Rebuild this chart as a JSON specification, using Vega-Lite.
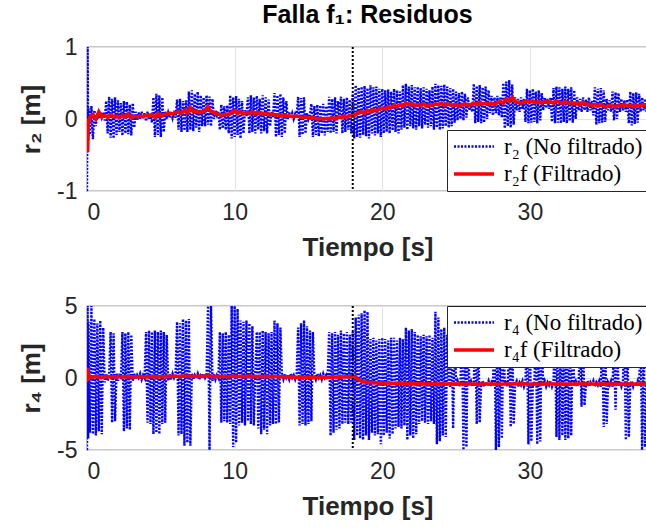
{
  "$schema": "https://vega.github.io/schema/vega-lite/v6.json",
  "background": "white",
  "padding": {"left": 17, "top": 2, "right": 0, "bottom": 0},
  "autosize": {"type": "pad"},
  "spacing": 33,
  "datasets": {
    "ev": [{"t": 18}],
    "s": [
      {"t":0,"a":-1,"b":0,"c":-5,"d":0.1},
      {"t":0.04,"a":1,"b":-0.46,"c":5,"d":0.7},
      {"t":0.08,"a":-0.3,"b":-0.1,"c":-4.2,"d":-0.05},
      {"t":0.1,"a":0.15,"c":3.9},
      {"t":0.2,"a":-0.22,"b":0.02,"c":-3.8,"d":0.1},
      {"t":0.3,"a":0.18,"c":5},
      {"t":0.4,"a":-0.28,"b":0.06,"c":-3.9,"d":0.05},
      {"t":0.5,"a":0.12,"c":4.1},
      {"t":0.6,"a":-0.1,"b":0,"c":-4,"d":0.12},
      {"t":0.7,"a":0.08,"c":3.8},
      {"t":0.8,"a":0,"b":0.1,"c":-3.7,"d":0.05},
      {"t":0.9,"a":0.1,"c":4},
      {"t":1,"a":0.02,"b":0.03,"c":-3.9,"d":0.08},
      {"t":1.1,"a":0.09,"c":3.5},
      {"t":1.2,"a":-0.02,"b":0.05,"c":-0.3,"d":0.07},
      {"t":1.3,"a":0.25,"c":0.3},
      {"t":1.4,"a":-0.2,"b":0.02,"c":-0.2,"d":0.1},
      {"t":1.5,"a":0.31,"c":0.2},
      {"t":1.6,"a":-0.26,"b":0.06,"c":3.2,"d":0.06},
      {"t":1.7,"a":0.28,"c":-3.1},
      {"t":1.8,"a":-0.27,"b":0.03,"c":3.1,"d":0.09},
      {"t":1.9,"a":0.3,"c":-3},
      {"t":2,"a":-0.22,"b":0.04,"c":0.3,"d":0.08},
      {"t":2.1,"a":0.26,"c":-0.2},
      {"t":2.2,"a":-0.18,"b":0.02,"c":0.3,"d":0.11},
      {"t":2.3,"a":0.22,"c":-0.1},
      {"t":2.4,"a":-0.23,"b":0.05,"c":3.2,"d":0.07},
      {"t":2.5,"a":0.25,"c":-3.7},
      {"t":2.6,"a":-0.2,"b":0.03,"c":3.1,"d":0.09},
      {"t":2.7,"a":0.24,"c":-3.5},
      {"t":2.8,"a":-0.21,"b":0.07,"c":3.2,"d":0.1},
      {"t":2.9,"a":0.2,"c":-3.6},
      {"t":3,"a":-0.23,"b":0.02,"c":3,"d":0.08},
      {"t":3.1,"a":0.22,"c":-0.2},
      {"t":3.2,"a":-0.12,"b":0.04,"c":0.3,"d":0.06},
      {"t":3.3,"a":0.1,"c":-0.1},
      {"t":3.4,"a":-0.02,"b":0.03,"c":0.2,"d":0.09},
      {"t":3.5,"a":0.09,"c":0},
      {"t":3.6,"a":0,"b":0.04,"c":0.3,"d":0.08},
      {"t":3.7,"a":0.1,"c":-0.1},
      {"t":3.8,"a":0.01,"b":0.03,"c":0.2,"d":0.1},
      {"t":3.9,"a":0.08,"c":0},
      {"t":4,"a":-0.03,"b":0.05,"c":3.2,"d":0.07},
      {"t":4.1,"a":0.1,"c":-3.1},
      {"t":4.2,"a":0,"b":0.04,"c":3.3,"d":0.09},
      {"t":4.3,"a":0.07,"c":-3.2},
      {"t":4.4,"a":-0.05,"b":0.06,"c":3.2,"d":0.11},
      {"t":4.5,"a":0.3,"c":-3.9},
      {"t":4.6,"a":-0.25,"b":0.02,"c":3.3,"d":0.08},
      {"t":4.7,"a":0.35,"c":-3.8},
      {"t":4.8,"a":-0.22,"b":0.08,"c":3.2,"d":0.1},
      {"t":4.9,"a":0.33,"c":-3.9},
      {"t":5,"a":-0.25,"b":0.04,"c":3.3,"d":0.07},
      {"t":5.1,"a":0.3,"c":-3.2},
      {"t":5.2,"a":-0.18,"b":0.06,"c":3.2,"d":0.09},
      {"t":5.3,"a":0.1,"c":-3.1},
      {"t":5.4,"a":0,"b":0.07,"c":3,"d":0.12},
      {"t":5.5,"a":0.09,"c":-0.2},
      {"t":5.6,"a":0.02,"b":0.08,"c":0.3,"d":0.1},
      {"t":5.7,"a":0.1,"c":-0.1},
      {"t":5.8,"a":0.01,"b":0.07,"c":0.3,"d":0.11},
      {"t":5.9,"a":0.08,"c":0},
      {"t":6,"a":0.02,"b":0.09,"c":0.2,"d":0.13},
      {"t":6.1,"a":0.27,"c":3.9},
      {"t":6.2,"a":-0.15,"b":0.1,"c":-4,"d":0.1},
      {"t":6.3,"a":0.28,"c":3.8},
      {"t":6.4,"a":-0.18,"b":0.08,"c":-3.9,"d":0.12},
      {"t":6.5,"a":0.25,"c":4.1},
      {"t":6.6,"a":-0.16,"b":0.12,"c":-4.7,"d":0.14},
      {"t":6.7,"a":0.26,"c":4},
      {"t":6.8,"a":-0.18,"b":0.09,"c":-4.5,"d":0.11},
      {"t":6.9,"a":0.38,"c":4.1},
      {"t":7,"a":-0.15,"b":0.16,"c":-4.7,"d":0.13},
      {"t":7.1,"a":0.4,"c":0.3},
      {"t":7.2,"a":-0.17,"b":0.1,"c":-0.1,"d":0.12},
      {"t":7.3,"a":0.35,"c":0.2},
      {"t":7.4,"a":-0.12,"b":0.11,"c":0,"d":0.1},
      {"t":7.5,"a":0.38,"c":0.3},
      {"t":7.6,"a":-0.18,"b":0.09,"c":-0.1,"d":0.13},
      {"t":7.7,"a":0.33,"c":0.2},
      {"t":7.8,"a":-0.1,"b":0.1,"c":0.1,"d":0.11},
      {"t":7.9,"a":0.3,"c":0.3},
      {"t":8,"a":-0.1,"b":0.12,"c":0,"d":0.12},
      {"t":8.1,"a":0.33,"c":0.2},
      {"t":8.2,"a":-0.08,"b":0.17,"c":5,"d":0.15},
      {"t":8.3,"a":0.31,"c":-5},
      {"t":8.4,"a":-0.1,"b":0.1,"c":5,"d":0.11},
      {"t":8.5,"a":0.28,"c":-0.2},
      {"t":8.6,"a":0,"b":0.09,"c":0.3,"d":0.1},
      {"t":8.7,"a":0.12,"c":-0.1},
      {"t":8.8,"a":0.05,"b":0.07,"c":0.2,"d":0.12},
      {"t":8.9,"a":0.1,"c":0},
      {"t":9,"a":-0.15,"b":0.06,"c":3.2,"d":0.09},
      {"t":9.1,"a":0.2,"c":-3.1},
      {"t":9.2,"a":-0.13,"b":0.05,"c":3.1,"d":0.11},
      {"t":9.3,"a":0.18,"c":-3},
      {"t":9.4,"a":-0.15,"b":0.07,"c":3.2,"d":0.1},
      {"t":9.5,"a":0.19,"c":-3.1},
      {"t":9.6,"a":-0.2,"b":0.06,"c":3,"d":0.08},
      {"t":9.7,"a":0.33,"c":-3.2},
      {"t":9.8,"a":-0.27,"b":0.09,"c":5,"d":0.12},
      {"t":9.9,"a":0.3,"c":-4.8},
      {"t":10,"a":-0.25,"b":0.12,"c":5,"d":0.13},
      {"t":10.1,"a":0.32,"c":-4.5},
      {"t":10.2,"a":-0.22,"b":0.08,"c":4.8,"d":0.1},
      {"t":10.3,"a":0.28,"c":-3.3},
      {"t":10.4,"a":-0.27,"b":0.1,"c":4,"d":0.12},
      {"t":10.5,"a":0.25,"c":-3.1},
      {"t":10.6,"a":-0.2,"b":0.07,"c":3.9,"d":0.09},
      {"t":10.7,"a":0.12,"c":-3.3},
      {"t":10.8,"a":0.04,"b":0.09,"c":4,"d":0.11},
      {"t":10.9,"a":0.3,"c":-3},
      {"t":11,"a":-0.2,"b":0.08,"c":3.8,"d":0.13},
      {"t":11.1,"a":0.33,"c":-3.2},
      {"t":11.2,"a":-0.18,"b":0.1,"c":3.6,"d":0.1},
      {"t":11.3,"a":0.3,"c":-3.3},
      {"t":11.4,"a":-0.2,"b":0.07,"c":0.3,"d":0.08},
      {"t":11.5,"a":0.32,"c":3.2},
      {"t":11.6,"a":-0.15,"b":0.09,"c":-3.5,"d":0.11},
      {"t":11.7,"a":0.28,"c":3.2},
      {"t":11.8,"a":-0.2,"b":0.08,"c":-3.9,"d":0.09},
      {"t":11.9,"a":0.33,"c":3.3},
      {"t":12,"a":-0.17,"b":0.07,"c":-3.6,"d":0.1},
      {"t":12.1,"a":0.3,"c":3.2},
      {"t":12.2,"a":-0.2,"b":0.08,"c":-3.9,"d":0.12},
      {"t":12.3,"a":0.27,"c":3.1},
      {"t":12.4,"a":-0.1,"b":0.06,"c":-3.3,"d":0.09},
      {"t":12.5,"a":0.1,"c":3.2},
      {"t":12.6,"a":0.03,"b":0.07,"c":-3.2,"d":0.11},
      {"t":12.7,"a":0.36,"c":4},
      {"t":12.8,"a":-0.25,"b":0.05,"c":-3.2,"d":0.1},
      {"t":12.9,"a":0.33,"c":3.8},
      {"t":13,"a":-0.22,"b":0.06,"c":-3.1,"d":0.08},
      {"t":13.1,"a":0.35,"c":3.5},
      {"t":13.2,"a":-0.25,"b":0.04,"c":0.2,"d":0.09},
      {"t":13.3,"a":0.3,"c":-0.1},
      {"t":13.4,"a":-0.2,"b":0.05,"c":0.3,"d":0.07},
      {"t":13.5,"a":0.25,"c":0},
      {"t":13.6,"a":0,"b":0.04,"c":0.2,"d":0.08},
      {"t":13.7,"a":0.09,"c":-0.1},
      {"t":13.8,"a":0.01,"b":0.04,"c":0.3,"d":0.06},
      {"t":13.9,"a":0.08,"c":0},
      {"t":14,"a":0,"b":0.03,"c":0.2,"d":0.07},
      {"t":14.1,"a":0.07,"c":-0.1},
      {"t":14.2,"a":0.02,"b":0.04,"c":0.2,"d":0.05},
      {"t":14.3,"a":0.31,"c":3.5},
      {"t":14.4,"a":-0.25,"b":0.03,"c":-3.3,"d":0.06},
      {"t":14.5,"a":0.29,"c":3.8},
      {"t":14.6,"a":-0.22,"b":0.02,"c":-3.2,"d":0.04},
      {"t":14.7,"a":0.3,"c":4},
      {"t":14.8,"a":-0.2,"b":0.03,"c":-3.3,"d":0.06},
      {"t":14.9,"a":0.08,"c":3.6},
      {"t":15,"a":0,"b":0.02,"c":-3.2,"d":0.05},
      {"t":15.1,"a":0.06,"c":3.3},
      {"t":15.2,"a":0.21,"b":0.01,"c":-3,"d":0.04},
      {"t":15.3,"a":-0.25,"c":3.2},
      {"t":15.4,"a":0.18,"b":0.02,"c":0.2,"d":0.03},
      {"t":15.5,"a":-0.22,"c":-0.1},
      {"t":15.6,"a":0.2,"b":0,"c":0.3,"d":0.04},
      {"t":15.7,"a":-0.24,"c":0},
      {"t":15.8,"a":0.19,"b":0.01,"c":0.2,"d":0.03},
      {"t":15.9,"a":-0.2,"c":-0.1},
      {"t":16,"a":0.21,"b":0,"c":0.3,"d":0.05},
      {"t":16.1,"a":-0.23,"c":0},
      {"t":16.2,"a":0.18,"b":0.01,"c":0.2,"d":0.04},
      {"t":16.3,"a":-0.18,"c":-0.1},
      {"t":16.4,"a":0.31,"b":0,"c":3.2,"d":0.06},
      {"t":16.5,"a":-0.2,"c":-4},
      {"t":16.6,"a":0.28,"b":0.02,"c":3.1,"d":0.05},
      {"t":16.7,"a":-0.18,"c":-3.8},
      {"t":16.8,"a":0.3,"b":0,"c":3.2,"d":0.07},
      {"t":16.9,"a":-0.2,"c":-3.6},
      {"t":17,"a":0.25,"b":0.03,"c":3,"d":0.06},
      {"t":17.1,"a":0,"c":-3.5},
      {"t":17.2,"a":0.31,"b":0.02,"c":3.3,"d":0.08},
      {"t":17.3,"a":-0.2,"c":-3.2},
      {"t":17.4,"a":0.28,"b":0.04,"c":3.1,"d":0.07},
      {"t":17.5,"a":-0.18,"c":-3.1},
      {"t":17.6,"a":0.3,"b":0.02,"c":3.2,"d":0.09},
      {"t":17.7,"a":-0.15,"c":-3.2},
      {"t":17.8,"a":0.27,"b":0.05,"c":3,"d":0.08},
      {"t":17.9,"a":-0.2,"c":-3.1},
      {"t":18,"a":0.35,"b":0.04,"c":3.2,"d":0.1},
      {"t":18.1,"a":-0.27,"c":-4.3},
      {"t":18.2,"a":0.47,"b":0.06,"c":4.2,"d":0.05},
      {"t":18.3,"a":-0.25,"c":-4},
      {"t":18.4,"a":0.44,"b":0.09,"c":4.4,"d":-0.1},
      {"t":18.5,"a":-0.26,"c":-4.2},
      {"t":18.6,"a":0.45,"b":0.1,"c":4.5,"d":-0.22},
      {"t":18.7,"a":-0.22,"c":-4.3},
      {"t":18.8,"a":0.46,"b":0.08,"c":4.7,"d":-0.28},
      {"t":18.9,"a":-0.24,"c":-4},
      {"t":19,"a":0.43,"b":0.12,"c":4.6,"d":-0.3},
      {"t":19.1,"a":-0.27,"c":-4.3},
      {"t":19.2,"a":0.47,"b":0.1,"c":2.7,"d":-0.32},
      {"t":19.3,"a":-0.2,"c":-3.8},
      {"t":19.4,"a":0.44,"b":0.13,"c":2.8,"d":-0.31},
      {"t":19.5,"a":-0.23,"c":-4},
      {"t":19.6,"a":0.45,"b":0.11,"c":2.6,"d":-0.34},
      {"t":19.7,"a":-0.2,"c":-3.9},
      {"t":19.8,"a":0.42,"b":0.14,"c":2.7,"d":-0.33},
      {"t":19.9,"a":-0.25,"c":-4.6},
      {"t":20,"a":0.42,"b":0.15,"c":2.8,"d":-0.35},
      {"t":20.1,"a":-0.2,"c":-4},
      {"t":20.2,"a":0.4,"b":0.14,"c":2.7,"d":-0.36},
      {"t":20.3,"a":-0.18,"c":-3.8},
      {"t":20.4,"a":0.41,"b":0.17,"c":2.6,"d":-0.34},
      {"t":20.5,"a":-0.2,"c":-4.2},
      {"t":20.6,"a":0.38,"b":0.16,"c":2.8,"d":-0.37},
      {"t":20.7,"a":-0.16,"c":-3.9},
      {"t":20.8,"a":0.42,"b":0.19,"c":2.8,"d":-0.36},
      {"t":20.9,"a":-0.18,"c":-3.5},
      {"t":21,"a":0.4,"b":0.17,"c":2.6,"d":-0.38},
      {"t":21.1,"a":-0.2,"c":-3.4},
      {"t":21.2,"a":0.38,"b":0.2,"c":2.8,"d":-0.37},
      {"t":21.3,"a":-0.15,"c":-3.5},
      {"t":21.4,"a":0.47,"b":0.18,"c":2.7,"d":-0.39},
      {"t":21.5,"a":-0.12,"c":-3.3},
      {"t":21.6,"a":0.49,"b":0.22,"c":3.5,"d":-0.38},
      {"t":21.7,"a":-0.15,"c":-4.3},
      {"t":21.8,"a":0.45,"b":0.2,"c":3.3,"d":-0.4},
      {"t":21.9,"a":-0.1,"c":-4},
      {"t":22,"a":0.47,"b":0.21,"c":3.4,"d":-0.39},
      {"t":22.1,"a":-0.13,"c":-4.2},
      {"t":22.2,"a":0.44,"b":0.19,"c":3.2,"d":-0.41},
      {"t":22.3,"a":-0.15,"c":-3.9},
      {"t":22.4,"a":0.45,"b":0.2,"c":3,"d":-0.4},
      {"t":22.5,"a":-0.1,"c":-3.2},
      {"t":22.6,"a":0.43,"b":0.19,"c":2.9,"d":-0.39},
      {"t":22.7,"a":-0.13,"c":-3},
      {"t":22.8,"a":0.44,"b":0.21,"c":3,"d":-0.41},
      {"t":22.9,"a":-0.08,"c":-3.1},
      {"t":23,"a":0.42,"b":0.18,"c":2.9,"d":-0.4},
      {"t":23.1,"a":-0.12,"c":-3.2},
      {"t":23.2,"a":0.4,"b":0.2,"c":3,"d":-0.42},
      {"t":23.3,"a":-0.1,"c":-3},
      {"t":23.4,"a":0.45,"b":0.19,"c":2.8,"d":-0.41},
      {"t":23.5,"a":-0.15,"c":-3.2},
      {"t":23.6,"a":0.49,"b":0.21,"c":4.6,"d":-0.4},
      {"t":23.7,"a":-0.12,"c":-4.6},
      {"t":23.8,"a":0.47,"b":0.2,"c":4.2,"d":-0.42},
      {"t":23.9,"a":-0.15,"c":-4.4},
      {"t":24,"a":0.46,"b":0.22,"c":3.4,"d":-0.41},
      {"t":24.1,"a":-0.13,"c":-4},
      {"t":24.2,"a":0.48,"b":0.19,"c":3.5,"d":-0.43},
      {"t":24.3,"a":-0.1,"c":-4.1},
      {"t":24.4,"a":0.45,"b":0.21,"c":3,"d":-0.42},
      {"t":24.5,"a":-0.12,"c":-0.3},
      {"t":24.6,"a":0.43,"b":0.2,"c":-0.6,"d":-0.4},
      {"t":24.7,"a":-0.1,"c":3},
      {"t":24.8,"a":0.42,"b":0.19,"c":-3.5,"d":-0.42},
      {"t":24.9,"a":-0.05,"c":3.1},
      {"t":25,"a":0.38,"b":0.2,"c":-0.5,"d":-0.43},
      {"t":25.1,"a":-0.02,"c":-0.2},
      {"t":25.2,"a":0.36,"b":0.18,"c":-0.6,"d":-0.41},
      {"t":25.3,"a":0,"c":-0.3},
      {"t":25.4,"a":0.38,"b":0.2,"c":3.5,"d":-0.42},
      {"t":25.5,"a":-0.02,"c":-5},
      {"t":25.6,"a":0.35,"b":0.21,"c":3.6,"d":-0.44},
      {"t":25.7,"a":0.02,"c":-4.8},
      {"t":25.8,"a":0.3,"b":0.19,"c":3.4,"d":-0.42},
      {"t":25.9,"a":0.12,"c":-0.4},
      {"t":26,"a":0.2,"b":0.2,"c":-0.2,"d":-0.41},
      {"t":26.1,"a":0.1,"c":-0.6},
      {"t":26.2,"a":0.49,"b":0.22,"c":-0.3,"d":-0.43},
      {"t":26.3,"a":-0.06,"c":3.3},
      {"t":26.4,"a":0.46,"b":0.2,"c":-3.2,"d":-0.42},
      {"t":26.5,"a":-0.04,"c":3.2},
      {"t":26.6,"a":0.47,"b":0.23,"c":-3.1,"d":-0.44},
      {"t":26.7,"a":-0.06,"c":-0.4},
      {"t":26.8,"a":0.44,"b":0.21,"c":-0.2,"d":-0.42},
      {"t":26.9,"a":-0.05,"c":-0.6},
      {"t":27,"a":0.45,"b":0.22,"c":-0.3,"d":-0.41},
      {"t":27.1,"a":0,"c":-0.5},
      {"t":27.2,"a":0.4,"b":0.21,"c":-0.2,"d":-0.43},
      {"t":27.3,"a":0.08,"c":-0.6},
      {"t":27.4,"a":0.32,"b":0.22,"c":-0.3,"d":-0.42},
      {"t":27.5,"a":0.05,"c":-0.5},
      {"t":27.6,"a":0.3,"b":0.2,"c":3.8,"d":-0.41},
      {"t":27.7,"a":0.08,"c":-5},
      {"t":27.8,"a":0.32,"b":0.23,"c":3.6,"d":-0.43},
      {"t":27.9,"a":0.05,"c":-4.8},
      {"t":28,"a":0.3,"b":0.24,"c":3.5,"d":-0.44},
      {"t":28.1,"a":0.02,"c":-4.2},
      {"t":28.2,"a":0.5,"b":0.22,"c":3.2,"d":-0.42},
      {"t":28.3,"a":-0.13,"c":-0.4},
      {"t":28.4,"a":0.52,"b":0.28,"c":-0.2,"d":-0.41},
      {"t":28.5,"a":-0.1,"c":-0.6},
      {"t":28.6,"a":0.54,"b":0.25,"c":3,"d":-0.43},
      {"t":28.7,"a":-0.12,"c":-3.4},
      {"t":28.8,"a":0.48,"b":0.3,"c":2.9,"d":-0.42},
      {"t":28.9,"a":-0.08,"c":-3.2},
      {"t":29,"a":0.3,"b":0.24,"c":-0.4,"d":-0.4},
      {"t":29.1,"a":0.12,"c":-0.2},
      {"t":29.2,"a":0.28,"b":0.23,"c":-0.6,"d":-0.42},
      {"t":29.3,"a":0.1,"c":-0.3},
      {"t":29.4,"a":0.3,"b":0.22,"c":-0.5,"d":-0.43},
      {"t":29.5,"a":0.14,"c":-0.2},
      {"t":29.6,"a":0.28,"b":0.24,"c":-0.6,"d":-0.41},
      {"t":29.7,"a":-0.04,"c":-0.3},
      {"t":29.8,"a":0.42,"b":0.25,"c":3.2,"d":-0.42},
      {"t":29.9,"a":-0.06,"c":-4.6},
      {"t":30,"a":0.4,"b":0.24,"c":3,"d":-0.44},
      {"t":30.1,"a":-0.05,"c":-4.4},
      {"t":30.2,"a":0.42,"b":0.25,"c":-0.3,"d":-0.43},
      {"t":30.3,"a":-0.04,"c":-0.5},
      {"t":30.4,"a":0.38,"b":0.23,"c":3.3,"d":-0.41},
      {"t":30.5,"a":-0.06,"c":-4.6},
      {"t":30.6,"a":0.4,"b":0.24,"c":3.1,"d":-0.42},
      {"t":30.7,"a":-0.02,"c":-4.4},
      {"t":30.8,"a":0.36,"b":0.22,"c":3,"d":-0.43},
      {"t":30.9,"a":0.12,"c":-0.5},
      {"t":31,"a":0.3,"b":0.24,"c":-0.2,"d":-0.41},
      {"t":31.1,"a":0.15,"c":-0.6},
      {"t":31.2,"a":0.28,"b":0.23,"c":-0.3,"d":-0.42},
      {"t":31.3,"a":0.14,"c":-0.5},
      {"t":31.4,"a":0.3,"b":0.24,"c":-0.2,"d":-0.4},
      {"t":31.5,"a":-0.04,"c":-0.6},
      {"t":31.6,"a":0.43,"b":0.22,"c":-0.3,"d":-0.42},
      {"t":31.7,"a":-0.06,"c":3.5},
      {"t":31.8,"a":0.45,"b":0.25,"c":-4.1,"d":-0.43},
      {"t":31.9,"a":-0.05,"c":3.4},
      {"t":32,"a":0.44,"b":0.23,"c":-4.3,"d":-0.41},
      {"t":32.1,"a":-0.06,"c":3.6},
      {"t":32.2,"a":0.42,"b":0.22,"c":-4,"d":-0.42},
      {"t":32.3,"a":-0.04,"c":3.3},
      {"t":32.4,"a":0.45,"b":0.24,"c":-4.3,"d":-0.44},
      {"t":32.5,"a":-0.06,"c":3.5},
      {"t":32.6,"a":0.42,"b":0.22,"c":-4.2,"d":-0.42},
      {"t":32.7,"a":-0.03,"c":3.4},
      {"t":32.8,"a":0.44,"b":0.23,"c":-4,"d":-0.41},
      {"t":32.9,"a":-0.05,"c":3.2},
      {"t":33,"a":0.4,"b":0.21,"c":-0.4,"d":-0.43},
      {"t":33.1,"a":0,"c":-0.2},
      {"t":33.2,"a":0.3,"b":0.22,"c":-0.6,"d":-0.42},
      {"t":33.3,"a":0.12,"c":-0.3},
      {"t":33.4,"a":0.28,"b":0.2,"c":2.5,"d":-0.38},
      {"t":33.5,"a":0.1,"c":-2},
      {"t":33.6,"a":0.3,"b":0.23,"c":2.4,"d":-0.41},
      {"t":33.7,"a":0.12,"c":-1.9},
      {"t":33.8,"a":0.27,"b":0.21,"c":-0.4,"d":-0.42},
      {"t":33.9,"a":0.1,"c":-0.2},
      {"t":34,"a":0.3,"b":0.2,"c":-0.6,"d":-0.43},
      {"t":34.1,"a":0.12,"c":-0.3},
      {"t":34.2,"a":0.25,"b":0.19,"c":-0.5,"d":-0.41},
      {"t":34.3,"a":0.05,"c":-0.2},
      {"t":34.4,"a":0.44,"b":0.2,"c":-0.6,"d":-0.42},
      {"t":34.5,"a":-0.08,"c":-0.3},
      {"t":34.6,"a":0.42,"b":0.18,"c":-0.5,"d":-0.44},
      {"t":34.7,"a":-0.06,"c":-0.2},
      {"t":34.8,"a":0.43,"b":0.2,"c":-0.6,"d":-0.42},
      {"t":34.9,"a":-0.05,"c":3},
      {"t":35,"a":0.4,"b":0.18,"c":-3.4,"d":-0.41},
      {"t":35.1,"a":-0.04,"c":2.9},
      {"t":35.2,"a":0.28,"b":0.17,"c":-3.2,"d":-0.43},
      {"t":35.3,"a":0.12,"c":-0.3},
      {"t":35.4,"a":0.26,"b":0.19,"c":-0.5,"d":-0.42},
      {"t":35.5,"a":0.1,"c":-0.2},
      {"t":35.6,"a":0.38,"b":0.18,"c":-0.6,"d":-0.41},
      {"t":35.7,"a":-0.02,"c":2.5},
      {"t":35.8,"a":0.37,"b":0.17,"c":-2.2,"d":-0.43},
      {"t":35.9,"a":0,"c":2.4},
      {"t":36,"a":0.36,"b":0.19,"c":-0.4,"d":-0.42},
      {"t":36.1,"a":0.1,"c":-0.2},
      {"t":36.2,"a":0.28,"b":0.18,"c":-0.6,"d":-0.44},
      {"t":36.3,"a":0.12,"c":-0.3},
      {"t":36.4,"a":0.26,"b":0.2,"c":3.3,"d":-0.42},
      {"t":36.5,"a":0.1,"c":-4.3},
      {"t":36.6,"a":0.27,"b":0.18,"c":3.2,"d":-0.43},
      {"t":36.7,"a":-0.06,"c":-4.1},
      {"t":36.8,"a":0.38,"b":0.19,"c":-0.4,"d":-0.41},
      {"t":36.9,"a":-0.09,"c":-0.2},
      {"t":37,"a":0.36,"b":0.17,"c":-0.6,"d":-0.42},
      {"t":37.1,"a":-0.07,"c":-0.3},
      {"t":37.2,"a":0.37,"b":0.19,"c":-0.5,"d":-0.43},
      {"t":37.3,"a":-0.05,"c":-0.2},
      {"t":37.4,"a":0.35,"b":0.18,"c":-0.6,"d":-0.42},
      {"t":37.5,"a":0.1,"c":3.5},
      {"t":37.6,"a":0.3,"b":0.2,"c":-5,"d":-0.41},
      {"t":37.7,"a":0.12,"c":3.4},
      {"t":37.8,"a":0.28,"b":0.19,"c":-4.8,"d":-0.43},
      {"t":37.9,"a":0.1,"c":-0.4},
      {"t":38,"a":0.25,"b":0.18,"c":-0.3,"d":-0.42}
    ]
  },
  "config": {
    "font": "Liberation Sans",
    "view": {"stroke": "#262626", "strokeWidth": 1.2},
    "axis": {
      "labelFont": "Liberation Sans", "labelFontSize": 23, "labelColor": "#262626",
      "titleFont": "Liberation Sans", "titleFontSize": 26, "titleFontWeight": "bold", "titleColor": "#262626",
      "ticks": false, "domain": false, "gridColor": "#e3e3e3", "gridWidth": 1, "labelPadding": 10
    },
    "legend": {
      "fillColor": "white", "strokeColor": "#262626", "padding": 5, "cornerRadius": 0,
      "labelFont": "Liberation Serif", "labelFontSize": 23, "labelColor": "black",
      "symbolType": "M-2,0H2", "symbolSize": 400, "symbolOffset": 10, "labelOffset": 18, "rowPadding": 3,
      "offset": 0, "title": null, "labelLimit": 400
    }
  },
  "resolve": {
    "scale": {"color": "independent", "strokeDash": "independent", "strokeWidth": "independent"},
    "legend": {"color": "independent", "strokeDash": "independent", "strokeWidth": "independent"}
  },
  "vconcat": [
    {
      "width": 561, "height": 144,
      "title": {"text": "Falla f₁: Residuos", "font": "Liberation Sans", "fontSize": 25, "fontWeight": "bold", "color": "black", "anchor": "middle", "frame": "group", "offset": 8},
      "layer": [
        {
          "data": {"name": "s"},
          "transform": [{"fold": ["a", "b"], "as": ["k", "v"]}, {"filter": "isValid(datum.v)"}],
          "mark": {"type": "line", "clip": true, "strokeCap": "butt"},
          "encoding": {
            "x": {"field": "t", "type": "quantitative", "scale": {"domain": [0, 38], "nice": false},
                  "axis": {"values": [0, 10, 20, 30], "title": "Tiempo [s]", "titlePadding": 10}},
            "y": {"field": "v", "type": "quantitative", "scale": {"domain": [-1, 1], "nice": false},
                  "axis": {"values": [-1, 0, 1], "title": "r₂ [m]", "titlePadding": 12,
                           "labelExpr": "datum.value < 0 ? '-' + abs(datum.value) : '' + datum.value"}},
            "color": {"field": "k", "type": "nominal", "scale": {"domain": ["a", "b"], "range": ["#0000ff", "#ff0000"]},
                      "legend": {"orient": "bottom-right", "labelExpr": "datum.value == 'a' ? 'r₂ (No filtrado)' : 'r₂f (Filtrado)'"}},
            "strokeDash": {"field": "k", "type": "nominal", "scale": {"domain": ["a", "b"], "range": [[2, 1.5], [1, 0]]},
                      "legend": {"orient": "bottom-right", "labelExpr": "datum.value == 'a' ? 'r₂ (No filtrado)' : 'r₂f (Filtrado)'"}},
            "strokeWidth": {"field": "k", "type": "nominal", "scale": {"domain": ["a", "b"], "range": [2.4, 3.6]},
                      "legend": {"orient": "bottom-right", "labelExpr": "datum.value == 'a' ? 'r₂ (No filtrado)' : 'r₂f (Filtrado)'"}}
          }
        },
        {
          "data": {"name": "ev"},
          "mark": {"type": "rule", "color": "black", "strokeDash": [2, 2], "strokeWidth": 2},
          "encoding": {"x": {"field": "t", "type": "quantitative"}}
        }
      ]
    },
    {
      "width": 561, "height": 144,
      "layer": [
        {
          "data": {"name": "s"},
          "transform": [{"fold": ["c", "d"], "as": ["k", "v"]}, {"filter": "isValid(datum.v)"}],
          "mark": {"type": "line", "clip": true, "strokeCap": "butt"},
          "encoding": {
            "x": {"field": "t", "type": "quantitative", "scale": {"domain": [0, 38], "nice": false},
                  "axis": {"values": [0, 10, 20, 30], "title": "Tiempo [s]", "titlePadding": 10}},
            "y": {"field": "v", "type": "quantitative", "scale": {"domain": [-5, 5], "nice": false},
                  "axis": {"values": [-5, 0, 5], "title": "r₄ [m]", "titlePadding": 12,
                           "labelExpr": "datum.value < 0 ? '-' + abs(datum.value) : '' + datum.value"}},
            "color": {"field": "k", "type": "nominal", "scale": {"domain": ["c", "d"], "range": ["#0000ff", "#ff0000"]},
                      "legend": {"orient": "top-right", "labelExpr": "datum.value == 'c' ? 'r₄ (No filtrado)' : 'r₄f (Filtrado)'"}},
            "strokeDash": {"field": "k", "type": "nominal", "scale": {"domain": ["c", "d"], "range": [[2, 1.5], [1, 0]]},
                      "legend": {"orient": "top-right", "labelExpr": "datum.value == 'c' ? 'r₄ (No filtrado)' : 'r₄f (Filtrado)'"}},
            "strokeWidth": {"field": "k", "type": "nominal", "scale": {"domain": ["c", "d"], "range": [2.4, 3.6]},
                      "legend": {"orient": "top-right", "labelExpr": "datum.value == 'c' ? 'r₄ (No filtrado)' : 'r₄f (Filtrado)'"}}
          }
        },
        {
          "data": {"name": "ev"},
          "mark": {"type": "rule", "color": "black", "strokeDash": [2, 2], "strokeWidth": 2},
          "encoding": {"x": {"field": "t", "type": "quantitative"}}
        }
      ]
    }
  ]
}
